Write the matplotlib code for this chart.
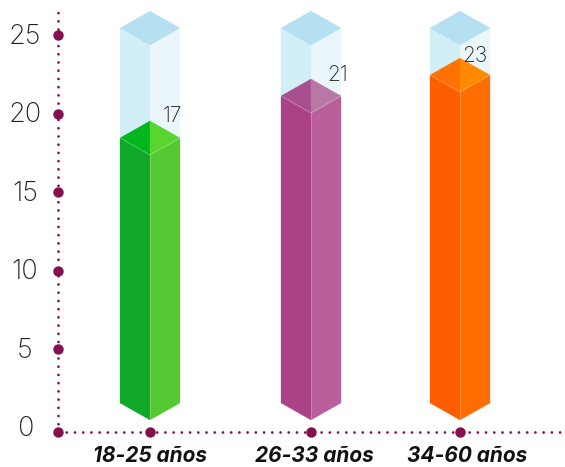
import matplotlib
matplotlib.use("Agg")
import matplotlib.pyplot as plt
from matplotlib.patches import Polygon

# --- data ---
categories = ["18-25 años", "26-33 años", "34-60 años"]
label_values = [17, 21, 23]
bar_tops = [17.37, 20.04, 21.37]      # height of the drawn column on the axis
track_top = 24.36
bar_base = 0.51
y_ticks = [0, 5, 10, 15, 20, 25]

# --- layout (pixels of the 565x467 figure) ---
W, H = 565, 467
Y0_PX, UNIT_PX = 428, 15.72
AXIS_LEFT_PX = 58
AXIS_BOTTOM_PX = 432
bar_x = [150, 311, 460]
half_w = 30
depth = 17 / UNIT_PX
baseline = (Y0_PX - AXIS_BOTTOM_PX) / UNIT_PX
axis_top = (Y0_PX - 12) / UNIT_PX

bar_colors = [
    dict(left="#10A828", right="#55C933", top_l="#00B81E", top_r="#58D52E"),
    dict(left="#AB4285", right="#B9609B", top_l="#A94F8E", top_r="#B877A5"),
    dict(left="#FF5E00", right="#FF6C00", top_l="#FF7100", top_r="#FF8A00"),
]
TRACK = dict(left="#D2EEF7", right="#EBF6FA", top_l="#B5E0F1", top_r="#B5E0F1")
AXIS_COLOR = "#85104F"
label_offset = [(22, 40), (27, 39), (15, 37)]

fig = plt.figure(figsize=(W / 100, H / 100), dpi=100)
ax = fig.add_axes([0, 0, 1, 1])
ax.set_xlim(0, W)
ax.set_ylim((Y0_PX - H) / UNIT_PX, Y0_PX / UNIT_PX)
ax.axis("off")


def column(ax, x, base, top, c, z, edge=None):
    """Isometric column: base and top are front-edge heights."""
    faces = [
        ([(x - half_w, base + depth), (x, base), (x, top), (x - half_w, top + depth)], c["left"]),
        ([(x + half_w, base + depth), (x, base), (x, top), (x + half_w, top + depth)], c["right"]),
        ([(x - half_w, top + depth), (x, top), (x, top + 2 * depth), ], c["top_l"]),
        ([(x + half_w, top + depth), (x, top), (x, top + 2 * depth), ], c["top_r"]),
    ]
    for pts, col in faces:
        ax.add_patch(Polygon(pts, closed=True, facecolor=col, edgecolor=col, lw=0.2, zorder=z))
    if edge:
        ax.plot([x - half_w, x, x + half_w], [top + depth, top, top + depth],
                color=edge, lw=0.6, alpha=0.28, zorder=z + 0.1)
        ax.plot([x, x], [base, top], color=edge, lw=0.6, alpha=0.28, zorder=z + 0.1)


for x, top, c in zip(bar_x, bar_tops, bar_colors):
    column(ax, x, top, track_top, TRACK, 2)
    column(ax, x, bar_base, top, c, 3, edge="white")

# axes
dot = dict(color=AXIS_COLOR, lw=2.0, ls=(0, (0.01, 2.95)), dash_capstyle="round", zorder=4)
ax.plot([AXIS_LEFT_PX, AXIS_LEFT_PX], [baseline, axis_top], **dot)
ax.plot([AXIS_LEFT_PX, W], [baseline, baseline], **dot)

tick_y = [baseline if t == 0 else t for t in y_ticks]
ax.plot([AXIS_LEFT_PX] * len(y_ticks), tick_y, "o", color=AXIS_COLOR, ms=7.5, mew=0, zorder=5)
ax.plot(bar_x, [baseline] * len(bar_x), "o", color=AXIS_COLOR, ms=7.5, mew=0, zorder=5)

tick_font = ["Inter", "Open Sans", "DejaVu Sans"]
for t in y_ticks:
    ax.text(25, t - 1.5 / UNIT_PX, str(t), ha="center", va="center", fontsize=19.5, color="#222222",
            family=tick_font, fontweight="light", zorder=6)

for x, name in zip([150, 314, 467.5], categories):
    ax.text(x, (Y0_PX - 456.5) / UNIT_PX, name, ha="center", va="center", fontsize=15,
            color="#111111", family=["Inter", "Open Sans", "DejaVu Sans"],
            fontweight="bold", fontstyle="italic", zorder=6)

for x, top, v, (dx, dy) in zip(bar_x, bar_tops, label_values, label_offset):
    ax.text(x + dx, top + (dy - 1) / UNIT_PX, str(v), ha="center", va="center", fontsize=15,
            color="#222222", family=tick_font, fontweight="light", zorder=6)

fig.savefig("out.png", dpi=100, facecolor="white")
